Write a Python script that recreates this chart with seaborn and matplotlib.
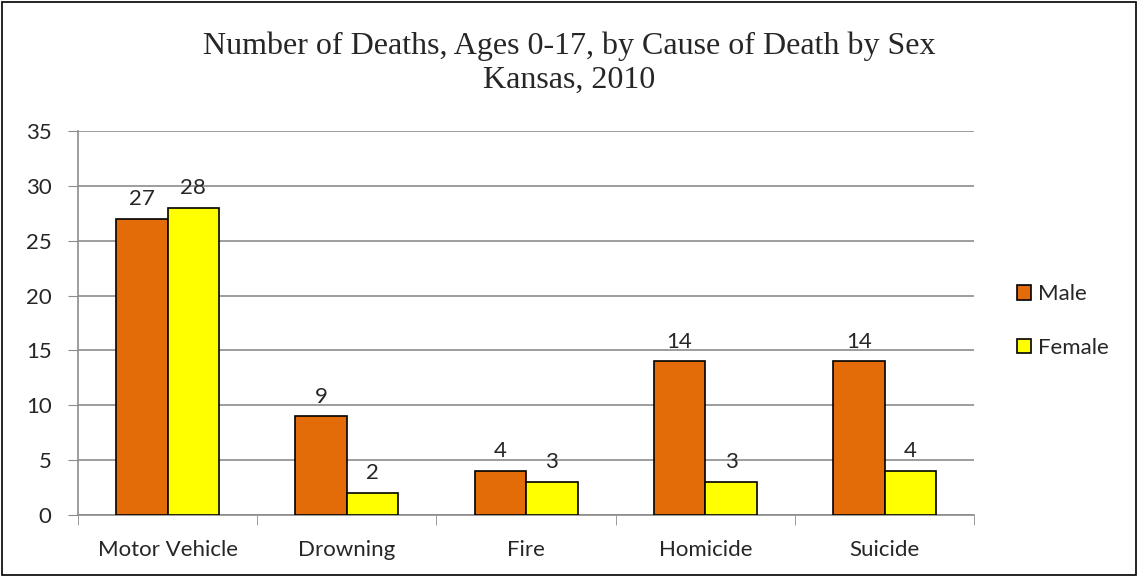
import pandas as pd
import matplotlib.pyplot as plt
import seaborn as sns
from matplotlib.patches import Rectangle

causes = ['Motor Vehicle', 'Drowning', 'Fire', 'Homicide', 'Suicide']
male = [27, 9, 4, 14, 14]
female = [28, 2, 3, 3, 4]

df = pd.DataFrame({
    'cause': causes * 2,
    'sex': ['Male'] * len(causes) + ['Female'] * len(causes),
    'deaths': male + female,
})

sns.set_style('white')
plt.rcParams['font.family'] = ['Lato', 'DejaVu Sans']

fig = plt.figure(figsize=(11.38, 5.77), dpi=100)
ax = fig.add_axes([0.0685, 0.1075, 0.7875, 0.6655])

sns.barplot(data=df, x='cause', y='deaths', hue='sex',
            palette={'Male': '#E36C09', 'Female': '#FFFF00'},
            width=0.575, gap=0, edgecolor='black', linewidth=1.2,
            saturation=1, ax=ax, zorder=3)

for cont in ax.containers:
    ax.bar_label(cont, padding=7, fontsize=16)

ax.set_ylim(0, 35)
ax.set_xlim(-0.5, 4.5)
ax.set_yticks(range(0, 36, 5))
ax.yaxis.grid(True, color='#8c8c8c', linewidth=1.2, zorder=0)
ax.set_axisbelow(True)
ax.tick_params(axis='y', labelsize=16, length=7, color='#8c8c8c', left=True, pad=12)
ax.tick_params(axis='x', labelsize=16, length=0, pad=18)

# category boundary ticks
ax.set_xticks([i - 0.5 for i in range(6)], minor=True)
ax.tick_params(axis='x', which='minor', length=7, color='#8c8c8c', bottom=True)

for s in ['top', 'right']:
    ax.spines[s].set_visible(False)
for s in ['left', 'bottom']:
    ax.spines[s].set_color('#8c8c8c')
    ax.spines[s].set_linewidth(1.2)

ax.set_xlabel('')
ax.set_ylabel('')

leg = ax.legend(loc='center left', bbox_to_anchor=(1.025, 0.505), frameon=False,
                fontsize=16, handlelength=0.65, handleheight=0.65,
                handletextpad=0.3, labelspacing=1.5)

fig.text(0.5, 0.945, 'Number of Deaths, Ages 0-17, by Cause of Death by Sex\nKansas, 2010',
         ha='center', va='top', fontsize=23, family='Liberation Serif', linespacing=1.2)

fig.add_artist(Rectangle((0.002, 0.003), 0.996, 0.994, transform=fig.transFigure,
                         fill=False, edgecolor='black', linewidth=1.2))

fig.savefig('out.png', dpi=100)
